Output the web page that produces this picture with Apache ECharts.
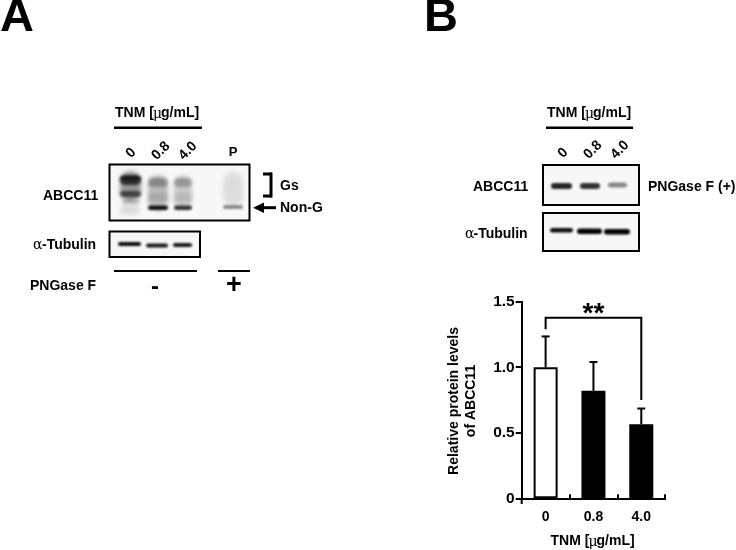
<!DOCTYPE html>
<html><head><meta charset="utf-8">
<style>html,body{margin:0;padding:0;background:#fff}#c{width:736px;height:550px}</style>
<script src="https://cdn.jsdelivr.net/npm/echarts@6/dist/echarts.min.js"></script>
</head><body><div id="c"></div>
<script>
var categories = ['0', '0.8', '4.0'];
var means = [1.0, 0.82, 0.565];
var upperErrors = [1.235, 1.04, 0.685];
var barColors = ['#ffffff', '#000000', '#000000'];
var yTicks = ['0', '0.5', '1.0', '1.5'];
var bracketTop = 1.378;
var bracketLeftEnd = 1.29;
var bracketRightEnd = 0.75;
var FONT = 'Arial, "Liberation Sans", sans-serif';

/* the western-blot photographs, painted as a soft picture */
function blotImage() {
  var cv = document.createElement('canvas');
  cv.width = 736; cv.height = 550;
  var c = cv.getContext('2d');
  function b(x, y, w, h, a, blur) {
    c.filter = 'blur(' + blur + 'px)';
    c.fillStyle = 'rgba(0,0,0,' + a + ')';
    c.beginPath();
    c.roundRect(x, y, w, h, h / 2);
    c.fill();
  }
  /* panel backgrounds */
  c.filter = 'none';
  c.fillStyle = '#f7f7f7';
  c.fillRect(110, 165, 139, 55);
  c.fillRect(110, 232, 90, 25);
  c.fillRect(543, 166, 96, 39);
  c.fillRect(543, 214, 96, 37);
  /* A, ABCC11 lane 0 */
  b(120, 171, 21, 30, 0.38, 2);
  b(120, 175, 21, 10, 0.7, 1.5);
  b(120, 176.5, 21, 3.5, 0.5, 1);
  b(120, 191, 21, 6, 0.6, 1.6);
  b(122, 199, 18, 5, 0.2, 1.4);
  b(120, 204, 20, 11, 0.1, 2);
  /* A, ABCC11 lane 0.8 */
  b(148, 175, 20, 36, 0.24, 2);
  b(148, 178, 20, 9, 0.28, 1.6);
  b(148, 193, 20, 8, 0.12, 2);
  b(148, 205.5, 20, 4.5, 0.9, 1.1);
  /* A, ABCC11 lane 4.0 */
  b(174, 175, 18, 35, 0.18, 2);
  b(174, 178, 18, 9, 0.25, 1.6);
  b(174, 193, 18, 8, 0.1, 2);
  b(174, 205.5, 18, 4.5, 0.75, 1.1);
  /* A, ABCC11 lane P */
  b(223, 172, 20, 34, 0.1, 2.5);
  b(223, 205, 20, 4, 0.42, 1);
  /* A, tubulin */
  b(118, 242, 23, 4, 0.95, 1);
  b(146, 243.5, 22, 4, 0.9, 1);
  b(173, 243, 19, 4, 0.9, 1);
  /* B, ABCC11 */
  b(551, 183, 21, 6, 0.85, 1.3);
  b(580, 183, 20, 6, 0.8, 1.3);
  b(608, 182.5, 19, 5, 0.45, 1.3);
  /* B, tubulin */
  b(550, 228, 23, 4.5, 0.95, 1);
  b(577, 228.5, 25, 5.5, 1, 1);
  b(604, 229, 26, 5.5, 1, 1);
  return cv;
}

function txt(x, y, s, size, opt) {
  opt = opt || {};
  return { type: 'text', x: x, y: y, rotation: opt.rot || 0, z: 20, style: {
    text: s, fill: '#000', font: (opt.w || 'bold') + ' ' + size + 'px ' + FONT,
    textAlign: opt.align || 'left', textVerticalAlign: 'middle' } };
}
function greek(x, y, s) {
  return { type: 'text', x: x, y: y, z: 20, style: { text: s, fill: '#000',
    font: '14px "DejaVu Serif", serif', textVerticalAlign: 'middle' } };
}
function line(x1, y1, x2, y2, w) {
  return { type: 'line', z: 15, shape: { x1: x1, y1: y1, x2: x2, y2: y2 }, style: { stroke: '#000', lineWidth: w || 2 } };
}
function box(x, y, w, h) {
  return { type: 'rect', z: 15, shape: { x: x, y: y, width: w, height: h }, style: { fill: 'none', stroke: '#000', lineWidth: 2 } };
}
var R45 = Math.PI / 4;

var g = [];
g.push({ type: 'image', z: 10, x: 0, y: 0, style: { image: blotImage(), x: 0, y: 0, width: 736, height: 550 } });

/* panel letters */
g.push(txt(0, 18, 'A', 47), txt(424, 18, 'B', 47));

/* panel A */
g.push(txt(115, 113, 'TNM [', 14), greek(153, 114, 'μ'), txt(161, 113, 'g/mL]', 14));
g.push(line(114, 127.7, 202, 127.7, 2.5));
g.push(txt(131, 153, '0', 14, { rot: R45, align: 'center' }));
g.push(txt(161, 151, '0.8', 14, { rot: R45, align: 'center' }));
g.push(txt(188, 151, '4.0', 14, { rot: R45, align: 'center' }));
g.push(txt(233, 152, 'P', 13, { align: 'center' }));
g.push(txt(43, 196, 'ABCC11', 14));
g.push(greek(33, 245, 'α'), txt(42, 245, '-Tubulin', 14));
g.push(txt(30, 286, 'PNGase F', 14));
g.push(txt(155, 287, '-', 24, { align: 'center', w: '900' }));
g.push(txt(234, 286, '+', 27, { align: 'center', w: '900' }));
g.push(txt(280, 186, 'Gs', 14));
g.push(txt(280, 208, 'Non-G', 14));
g.push(line(263, 174, 272, 174, 3), line(271, 172.5, 271, 197.5, 3), line(263, 196, 272, 196, 3));
g.push(line(262, 207.7, 276, 207.7, 3));
g.push({ type: 'polygon', z: 15, shape: { points: [[253, 207.7], [264, 202.5], [264, 213]] }, style: { fill: '#000' } });
g.push(box(109.5, 164.5, 140, 56), box(109.5, 231.5, 90.5, 25.5));
g.push(line(114, 271, 197, 271, 2), line(218, 271, 250, 271, 2));

/* panel B */
g.push(txt(547, 113, 'TNM [', 14), greek(585, 114, 'μ'), txt(593, 113, 'g/mL]', 14));
g.push(line(546, 127.7, 633, 127.7, 2.5));
g.push(txt(563, 153, '0', 14, { rot: R45, align: 'center' }));
g.push(txt(593, 150, '0.8', 14, { rot: R45, align: 'center' }));
g.push(txt(620, 150, '4.0', 14, { rot: R45, align: 'center' }));
g.push(txt(473, 187, 'ABCC11', 14));
g.push(greek(465, 234, 'α'), txt(473.5, 234, '-Tubulin', 14));
g.push(txt(648, 187, 'PNGase F (+)', 14));
g.push(box(543, 165, 96, 40), box(543, 213, 96, 38));

/* bar chart titles */
g.push(txt(454, 401, 'Relative protein levels', 14, { rot: R45 * 2, align: 'center' }));
g.push(txt(471, 401, 'of ABCC11', 14, { rot: R45 * 2, align: 'center' }));
g.push(txt(550.5, 541.5, 'TNM [', 14), greek(588.5, 542.5, 'μ'), txt(596.5, 541.5, 'g/mL]', 14));
/* lower stub of the y axis */
g.push(line(521.7, 498, 521.7, 504, 2));

var chart = echarts.init(document.getElementById('c'), null, { renderer: 'canvas' });
chart.setOption({
  animation: false,
  backgroundColor: '#fff',
  textStyle: { fontFamily: FONT },
  graphic: g,
  grid: { left: 521.7, top: 301.7, width: 143.5, height: 196.6, containLabel: false },
  xAxis: {
    type: 'category', data: categories, position: 'bottom',
    axisLine: { lineStyle: { color: '#000', width: 2 } },
    axisTick: { show: true, alignWithLabel: false, inside: true, length: 4, lineStyle: { color: '#000', width: 2 } },
    axisLabel: { color: '#000', fontWeight: 'bold', fontSize: 14, margin: 12, fontFamily: FONT }
  },
  yAxis: {
    type: 'value', min: 0, max: 1.5, interval: 0.5,
    splitLine: { show: false },
    axisLine: { show: true, lineStyle: { color: '#000', width: 2 } },
    axisTick: { show: true, length: 6, lineStyle: { color: '#000', width: 2 } },
    axisLabel: { color: '#000', fontWeight: 'bold', fontSize: 15.5, margin: 7, fontFamily: FONT,
      formatter: function (v) { return yTicks[Math.round(v / 0.5)]; } }
  },
  series: [
    { type: 'bar', barWidth: 24, z: 3,
      data: means.map(function (v, i) {
        return { value: v, itemStyle: { color: barColors[i], borderColor: '#000', borderWidth: 2 } };
      }) },
    { type: 'custom', z: 2, data: upperErrors.map(function (u, i) { return [i, means[i], u]; }),
      encode: { x: 0, y: [1, 2] },
      renderItem: function (p, api) {
        var a = api.coord([api.value(0), api.value(1)]);
        var b = api.coord([api.value(0), api.value(2)]);
        var st = { stroke: '#000', lineWidth: 2 };
        return { type: 'group', children: [
          { type: 'line', shape: { x1: a[0], y1: a[1], x2: b[0], y2: b[1] }, style: st },
          { type: 'line', shape: { x1: b[0] - 4, y1: b[1], x2: b[0] + 4, y2: b[1] }, style: st }
        ] };
      } },
    { type: 'custom', z: 4, data: [[0, bracketLeftEnd], [2, bracketRightEnd]],
      encode: { x: 0, y: 1 },
      renderItem: function (p, api) {
        if (p.dataIndex !== 0) return null;
        var a = api.coord([0, bracketLeftEnd]), b = api.coord([2, bracketRightEnd]);
        var ta = api.coord([0, bracketTop]), tb = api.coord([2, bracketTop]);
        return { type: 'group', children: [
          { type: 'polyline', shape: { points: [a, ta, tb, b] }, style: { stroke: '#000', lineWidth: 2, fill: 'none' } },
          { type: 'text', style: { x: (ta[0] + tb[0]) / 2, y: ta[1] - 3, text: '**', fill: '#000',
            font: 'bold 28px ' + FONT, textAlign: 'center', textVerticalAlign: 'middle' } }
        ] };
      } }
  ]
});
</script></body></html>
